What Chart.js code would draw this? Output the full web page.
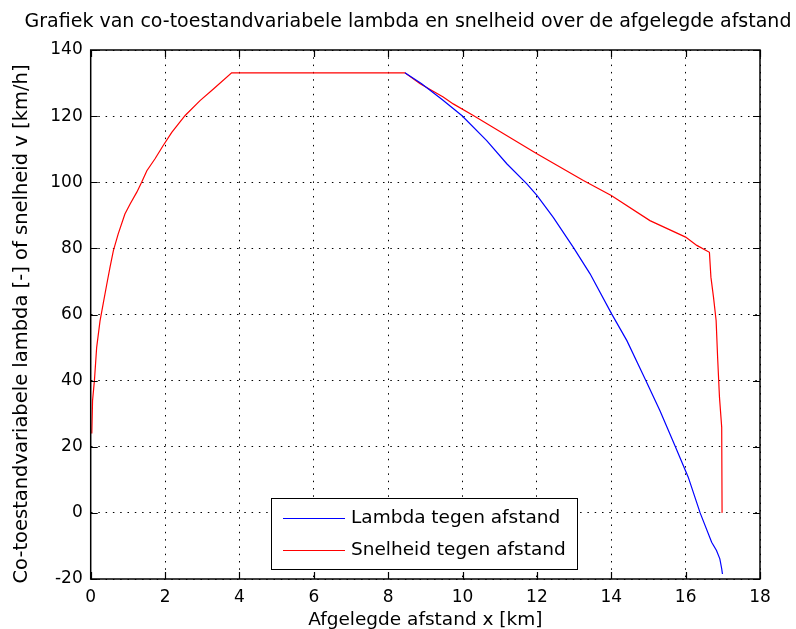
<!DOCTYPE html>
<html>
<head>
<meta charset="utf-8">
<script src="https://cdn.jsdelivr.net/npm/chart.js@4"></script>
<style>
  html, body { margin: 0; padding: 0; background: #fff; }
  #wrap { width: 796px; height: 629px; }
</style>
</head>
<body>
<div id="wrap"><canvas id="chart" width="796" height="629"></canvas></div>
<script>
// afgelegde afstand (km) en waarden
const lambdaX = [8.45, 8.9, 9.45, 9.98, 10.65, 11.19, 11.73, 12.0, 12.44, 12.98, 13.43, 14.01, 14.42, 14.91, 15.31, 15.71, 16.07, 16.39, 16.7, 16.83, 16.92, 16.97, 16.99];
const lambdaY = [133.1, 129.8, 125, 120.2, 112.6, 105.6, 99.5, 96, 89.4, 80.3, 72.3, 60.2, 52.1, 40.5, 30.9, 20.4, 10.8, 0, -8.9, -11.4, -13.9, -16.9, -18.5];

const speedX = [0.03, 0.05, 0.1, 0.16, 0.25, 0.34, 0.43, 0.52, 0.61, 0.74, 0.92, 1.06, 1.24, 1.37, 1.51, 1.73, 1.95, 2.18, 2.54, 2.94, 3.3, 3.79,
  8.45, 8.86, 9.21, 9.48, 9.75, 10.29, 12.0, 13.25, 14.0, 15.04, 16.0, 16.3, 16.64, 16.68, 16.75, 16.82, 16.86, 16.91, 16.97, 16.98];
const speedY = [24, 34, 40, 50, 58, 63.5, 69, 74.3, 79.3, 84.4, 90.4, 93.4, 97, 100, 103.5, 107.1, 111.1, 115.1, 120.2, 124.7, 128.2, 133.1,
  133.1, 129.8, 127.5, 125.8, 123.7, 120.2, 108.6, 100.5, 96, 88.4, 83.4, 80.9, 78.8, 71.3, 65.2, 58.2, 47.1, 35, 25.9, 0];

const xTicks = [0, 2, 4, 6, 8, 10, 12, 14, 16, 18];
const yTicks = [-20, 0, 20, 40, 60, 80, 100, 120, 140];

const seriesLabels = ["Lambda tegen afstand", "Snelheid tegen afstand"];
const seriesColors = ["#0000ff", "#ff0000"];
const chartTitle = "Grafiek van co-toestandvariabele lambda en snelheid over de afgelegde afstand";
const yTitle = "Co-toestandvariabele lambda [-] of snelheid v [km/h]";

const FONT = "'DejaVu Sans', sans-serif";

function toPoints(xs, ys) {
  return xs.map((x, i) => ({ x: x, y: ys[i] }));
}

// titel en y-as label zelf tekenen, zodat ze op dezelfde plek staan als in het origineel
const textPlugin = {
  id: "textPlugin",
  afterDraw(chart) {
    const { ctx } = chart;
    ctx.save();
    ctx.fillStyle = "#000";
    ctx.textAlign = "center";
    ctx.textBaseline = "middle";
    ctx.font = "19px " + FONT;
    ctx.fillText(chartTitle, 408, 22);
    ctx.translate(22, 324);
    ctx.rotate(-Math.PI / 2);
    ctx.font = "19.5px " + FONT;
    ctx.fillText(yTitle, 0, 0);
    ctx.restore();
  }
};

// kader rondom + tickmarks naar binnen (zoals in matlab)
const boxPlugin = {
  id: "boxPlugin",
  afterDatasetsDraw(chart) {
    const { ctx, chartArea: a, scales } = chart;
    ctx.save();
    ctx.strokeStyle = "#000";
    ctx.lineWidth = 1.5;
    ctx.strokeRect(a.left, a.top, a.right - a.left, a.bottom - a.top);
    ctx.lineWidth = 1.2;
    ctx.beginPath();
    xTicks.forEach(t => {
      const px = Math.round(scales.x.getPixelForValue(t)) + 0.5;
      ctx.moveTo(px, a.bottom); ctx.lineTo(px, a.bottom - 7);
      ctx.moveTo(px, a.top); ctx.lineTo(px, a.top + 7);
    });
    yTicks.forEach(t => {
      const py = Math.round(scales.y.getPixelForValue(t)) + 0.5;
      ctx.moveTo(a.left, py); ctx.lineTo(a.left + 7, py);
      ctx.moveTo(a.right, py); ctx.lineTo(a.right - 7, py);
    });
    ctx.stroke();
    ctx.restore();
  }
};

// legenda in het plotvlak, onderaan
const legendPlugin = {
  id: "legendBox",
  afterDraw(chart) {
    const { ctx } = chart;
    const bx = 271, by = 498, bw = 306, bh = 71;
    ctx.save();
    ctx.fillStyle = "#fff";
    ctx.fillRect(bx, by, bw, bh);
    ctx.strokeStyle = "#000";
    ctx.lineWidth = 1;
    ctx.strokeRect(bx + 0.5, by + 0.5, bw, bh);
    ctx.font = "18.5px " + FONT;
    ctx.textBaseline = "middle";
    chart.data.datasets.forEach((ds, i) => {
      const yy = by + 20 + i * 32;
      ctx.strokeStyle = ds.borderColor;
      ctx.lineWidth = 1.2;
      ctx.beginPath();
      ctx.moveTo(bx + 12, yy + 0.5);
      ctx.lineTo(bx + 74, yy + 0.5);
      ctx.stroke();
      ctx.fillStyle = "#000";
      ctx.fillText(ds.label, bx + 80, yy);
    });
    ctx.restore();
  }
};

new Chart(document.getElementById("chart"), {
  type: "scatter",
  data: {
    datasets: [{
      label: seriesLabels[0],
      data: toPoints(lambdaX, lambdaY),
      showLine: true,
      borderColor: seriesColors[0],
      backgroundColor: seriesColors[0],
      borderWidth: 1.2,
      pointRadius: 0,
      tension: 0
    }, {
      label: seriesLabels[1],
      data: toPoints(speedX, speedY),
      showLine: true,
      borderColor: seriesColors[1],
      backgroundColor: seriesColors[1],
      borderWidth: 1.2,
      pointRadius: 0,
      tension: 0
    }]
  },
  options: {
    responsive: false,
    animation: false,
    layout: { padding: { left: 0, right: 36, top: 50, bottom: 0 } },
    plugins: {
      legend: { display: false },
      tooltip: { enabled: false },
      title: { display: false }
    },
    scales: {
      x: {
        type: "linear",
        min: 0, max: 18,
        afterFit: s => { s.height = 50; },
        afterBuildTicks: s => { s.ticks = xTicks.map(v => ({ value: v })); },
        ticks: { color: "#000", padding: 8, font: { family: FONT, size: 17 } },
        grid: { color: "#000", lineWidth: 1, drawTicks: false },
        border: { display: false, dash: [1.5, 5.8] },
        title: {
          display: true,
          text: "Afgelegde afstand x [km]",
          color: "#000",
          font: { family: FONT, size: 18.5, lineHeight: 1 },
          padding: { top: 0, bottom: 0 }
        }
      },
      y: {
        type: "linear",
        min: -20, max: 140,
        afterFit: s => { s.width = 90.7; },
        afterBuildTicks: s => { s.ticks = yTicks.map(v => ({ value: v })); },
        ticks: { color: "#000", padding: 8, font: { family: FONT, size: 17 } },
        grid: { color: "#000", lineWidth: 1, drawTicks: false },
        border: { display: false, dash: [1.5, 5.8] },
        title: { display: false }
      }
    }
  },
  plugins: [textPlugin, boxPlugin, legendPlugin]
});
</script>
</body>
</html>
